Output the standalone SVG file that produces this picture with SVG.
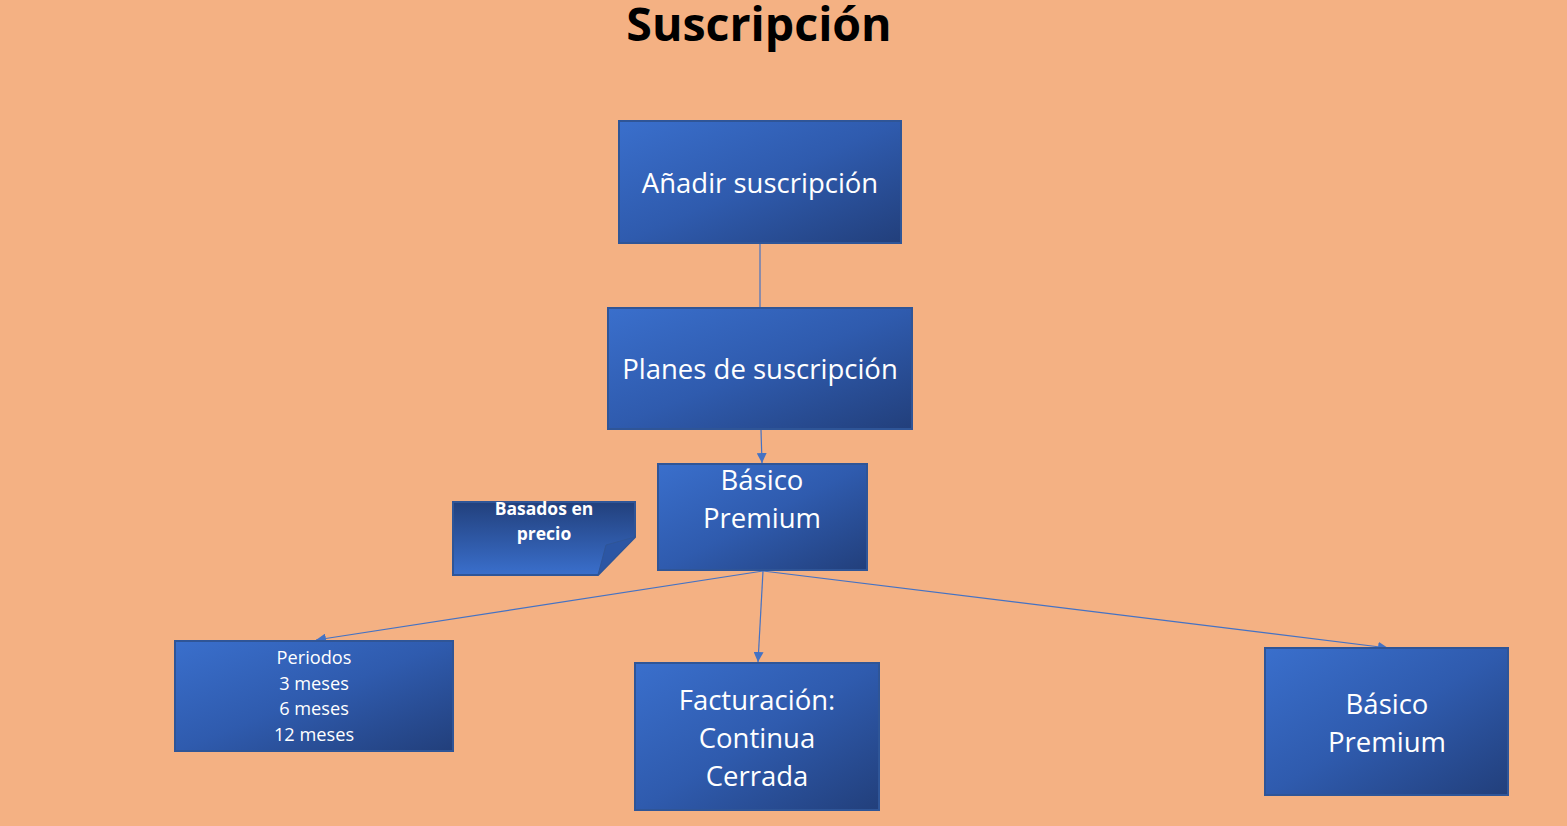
<svg xmlns="http://www.w3.org/2000/svg" width="1567" height="826" viewBox="0 0 1567 826">
<defs>
<linearGradient id="g" x1="0" y1="0" x2="1" y2="1">
<stop offset="0" stop-color="#3A6FCC"/>
<stop offset="0.5" stop-color="#2F5BAE"/>
<stop offset="1" stop-color="#223F7B"/>
</linearGradient>
<linearGradient id="gn" x1="0" y1="0" x2="0" y2="1">
<stop offset="0" stop-color="#22407C"/>
<stop offset="1" stop-color="#3A6FCC"/>
</linearGradient>
<marker id="a" viewBox="0 0 10 10" refX="10" refY="5" markerWidth="10" markerHeight="10" markerUnits="userSpaceOnUse" orient="auto">
<path d="M0,0 L10,5 L0,10 z" fill="#4472C4"/>
</marker>
<style>
.box{fill:url(#g);stroke:#2F5597;stroke-width:2}
.t{fill:#fff;font-family:"Open Sans","Liberation Sans",sans-serif;text-anchor:middle}
.big{font-size:27.5px}
.sm{font-size:18.2px}
.c{stroke:#4472C4;stroke-width:1.2;fill:none}
</style>
</defs>
<rect width="1567" height="826" fill="#F4B183"/>
<text x="759" y="41" font-family="'Open Sans','Liberation Sans',sans-serif" font-size="46.5" font-weight="bold" text-anchor="middle" fill="#000">Suscripción</text>
<g id="connectors">
<line class="c" x1="760" y1="243" x2="760" y2="308"/>
<line class="c" x1="761" y1="430" x2="762" y2="463" marker-end="url(#a)"/>
<line class="c" x1="763" y1="571" x2="316" y2="640" marker-end="url(#a)"/>
<line class="c" x1="763" y1="571" x2="758" y2="662" marker-end="url(#a)"/>
<line class="c" x1="763" y1="571" x2="1388" y2="648" marker-end="url(#a)"/>
</g>
<g id="n-anadir">
<rect class="box" x="619" y="121" width="282" height="122"/>
<text class="t big" x="760" y="193">Añadir suscripción</text>
</g>
<g id="n-planes">
<rect class="box" x="608" y="308" width="304" height="121"/>
<text class="t big" x="760" y="379">Planes de suscripción</text>
</g>
<g id="n-basico1">
<rect class="box" x="658" y="464" width="209" height="106"/>
<text class="t big" x="762" y="490">Básico</text>
<text class="t big" x="762" y="528">Premium</text>
</g>
<g id="n-nota">
<path d="M453,502 H635 V537 L598,575 H453 Z" fill="url(#gn)" stroke="#2F5597" stroke-width="2"/>
<path d="M635,537 L606,545 L598,575 Z" fill="#2C56A4" stroke="#2F5597" stroke-width="1"/>
<text class="t" x="544" y="515" font-size="17.5" font-weight="bold">Basados en</text>
<text class="t" x="544" y="540" font-size="17.5" font-weight="bold">precio</text>
</g>
<g id="n-periodos">
<rect class="box" x="175" y="641" width="278" height="110"/>
<text class="t sm" x="314" y="664">Periodos</text>
<text class="t sm" x="314" y="690">3 meses</text>
<text class="t sm" x="314" y="715">6 meses</text>
<text class="t sm" x="314" y="741">12 meses</text>
</g>
<g id="n-facturacion">
<rect class="box" x="635" y="663" width="244" height="147"/>
<text class="t big" x="757" y="710">Facturación:</text>
<text class="t big" x="757" y="748">Continua</text>
<text class="t big" x="757" y="786">Cerrada</text>
</g>
<g id="n-basico2">
<rect class="box" x="1265" y="648" width="243" height="147"/>
<text class="t big" x="1387" y="714">Básico</text>
<text class="t big" x="1387" y="752">Premium</text>
</g>
</svg>
